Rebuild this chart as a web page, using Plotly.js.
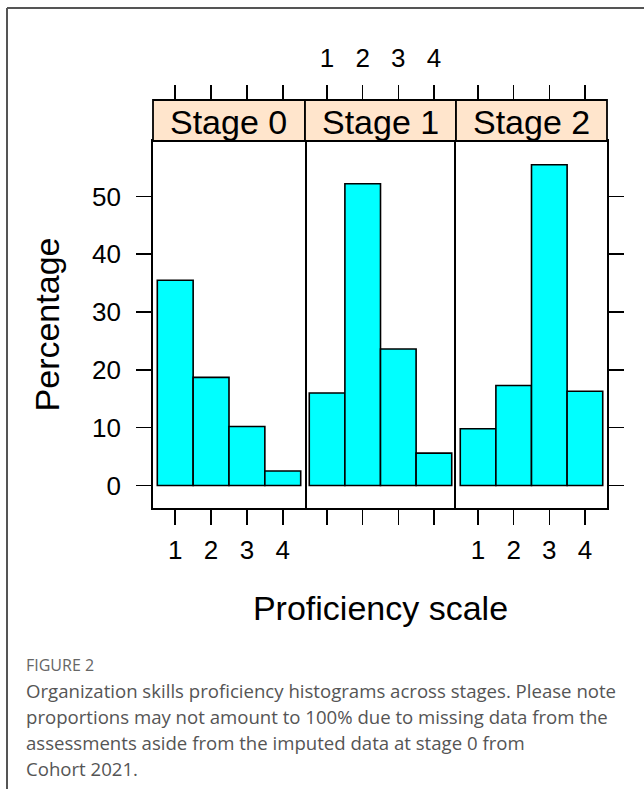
<!DOCTYPE html>
<html><head><meta charset="utf-8">
<script src="https://cdn.plot.ly/plotly-3.0.1.min.js"></script>
<style>html,body{margin:0;padding:0;background:#fff}</style>
</head><body><div id="chart" style="width:644px;height:789px"></div>
<script>
// ---- data ----
const categories = [1, 2, 3, 4];
const stageNames = ['Stage 0', 'Stage 1', 'Stage 2'];
const stage0 = [35.5, 18.7, 10.2, 2.5];
const stage1 = [16.0, 52.2, 23.6, 5.6];
const stage2 = [9.8, 17.3, 55.5, 16.3];
const yTicks = [0, 10, 20, 30, 40, 50];
const xTitle = 'Proficiency scale';
const yTitle = 'Percentage';
const figLabel = 'FIGURE 2';
const captionLines = [
  'Organization skills proficiency histograms across stages. Please note',
  'proportions may not amount to 100% due to missing data from the',
  'assessments aside from the imputed data at stage 0 from',
  'Cohort 2021.'
];

// ---- layout helpers ----
const W = 644, H = 789;
const px = x => x / W;
const py = y => 1 - y / H;
const panels = [[153, 305], [305, 456], [456, 607]];
const panelTop = 141, panelBottom = 508, stripTop = 100;
const FONT = 'Liberation Sans, Arial, sans-serif';
const xRange = [0.38, 4.62];
const yRange = [-3.9, 59.6];
const series = [stage0, stage1, stage2];

const traces = series.map((vals, i) => ({
  type: 'bar', x: categories, y: vals,
  xaxis: 'x' + (i ? i + 1 : ''), yaxis: 'y' + (i ? i + 1 : ''),
  width: 1,
  marker: {color: '#00FFFF', line: {color: '#000', width: 1.6}},
  showlegend: false, hoverinfo: 'x+y'
}));
// empty helper traces so the top tick axes are drawn
['', '2', '3'].forEach((s, i) => traces.push({type: 'scatter', x: [], y: [], xaxis: 'x' + (i + 4), yaxis: 'y' + s, showlegend: false}));

const baseX = {
  range: xRange, tickvals: categories, ticktext: categories.map(String),
  ticks: 'outside', ticklen: 15, tickwidth: 1.6, tickcolor: '#000',
  showline: true, mirror: true, linecolor: '#000', linewidth: 1.8,
  showgrid: false, zeroline: false, fixedrange: true,
  tickfont: {family: FONT, size: 26, color: '#000'}
};
const baseY = {
  range: yRange, tickvals: yTicks, domain: [py(panelBottom), py(panelTop)],
  showline: true, mirror: true, linecolor: '#000', linewidth: 1.8,
  showgrid: false, zeroline: false, fixedrange: true,
  ticklen: 15, tickwidth: 1.6, tickcolor: '#000',
  tickfont: {family: FONT, size: 26, color: '#000'}
};

const layout = {
  width: W, height: H, margin: {l: 0, r: 0, t: 0, b: 0},
  paper_bgcolor: '#fff', plot_bgcolor: '#fff',
  font: {family: FONT, color: '#000'},
  bargap: 0,
  xaxis: Object.assign({}, baseX, {domain: [px(panels[0][0]), px(panels[0][1])], anchor: 'y', ticklabelstandoff: 3}),
  xaxis2: Object.assign({}, baseX, {domain: [px(panels[1][0]), px(panels[1][1])], anchor: 'y2', showticklabels: false,
    title: {text: xTitle, font: {family: FONT, size: 34, color: '#000'}, standoff: 72}}),
  xaxis3: Object.assign({}, baseX, {domain: [px(panels[2][0]), px(panels[2][1])], anchor: 'y3', ticklabelstandoff: 3}),
  xaxis4: Object.assign({}, baseX, {domain: [px(panels[0][0]), px(panels[0][1])], overlaying: 'x', anchor: 'free', position: py(stripTop), side: 'top', showline: false, showticklabels: false}),
  xaxis5: Object.assign({}, baseX, {domain: [px(panels[1][0]), px(panels[1][1])], overlaying: 'x2', anchor: 'free', position: py(stripTop), side: 'top', showline: false, ticklabelstandoff: 8}),
  xaxis6: Object.assign({}, baseX, {domain: [px(panels[2][0]), px(panels[2][1])], overlaying: 'x3', anchor: 'free', position: py(stripTop), side: 'top', showline: false, showticklabels: false}),
  yaxis: Object.assign({}, baseY, {anchor: 'x', ticks: 'outside', ticklabelstandoff: 10,
    title: {text: yTitle, font: {family: FONT, size: 34, color: '#000'}, standoff: 22}}),
  yaxis2: Object.assign({}, baseY, {anchor: 'x2', ticks: '', showticklabels: false, showline: false}),
  yaxis3: Object.assign({}, baseY, {anchor: 'x3', side: 'right', ticks: 'outside', showticklabels: false}),
  shapes: [],
  annotations: []
};

// strips
panels.forEach((p, i) => {
  layout.shapes.push({type: 'rect', xref: 'paper', yref: 'paper',
    x0: px(p[0]), x1: px(p[1]), y0: py(panelTop), y1: py(stripTop),
    fillcolor: '#FFE5CC', line: {color: '#000', width: 1.8}, layer: 'above'});
  layout.annotations.push({xref: 'paper', yref: 'paper', x: px((p[0] + p[1]) / 2), y: py((panelTop + stripTop) / 2 + 1),
    text: stageNames[i], showarrow: false, xanchor: 'center', yanchor: 'middle',
    font: {family: FONT, size: 34, color: '#000'}});
});

// card border
layout.shapes.push({type: 'line', xref: 'paper', yref: 'paper', x0: px(7), x1: 1, y0: py(8), y1: py(8), line: {color: '#555', width: 2}});
layout.shapes.push({type: 'line', xref: 'paper', yref: 'paper', x0: px(7), x1: px(7), y0: py(8), y1: 0, line: {color: '#555', width: 2}});

// caption
layout.annotations.push({xref: 'paper', yref: 'paper', x: px(24), y: py(665), xanchor: 'left', yanchor: 'middle',
  text: figLabel, showarrow: false, font: {family: 'Open Sans, sans-serif', size: 16, color: '#666'}});
captionLines.forEach((t, i) => {
  layout.annotations.push({xref: 'paper', yref: 'paper', x: px(24), y: py(690 + 26 * i), xanchor: 'left', yanchor: 'middle',
    text: t, showarrow: false, font: {family: 'Open Sans, sans-serif', size: 18.6, color: '#555'}});
});

Plotly.newPlot('chart', traces, layout, {displayModeBar: false, staticPlot: true});
</script>
</body></html>
